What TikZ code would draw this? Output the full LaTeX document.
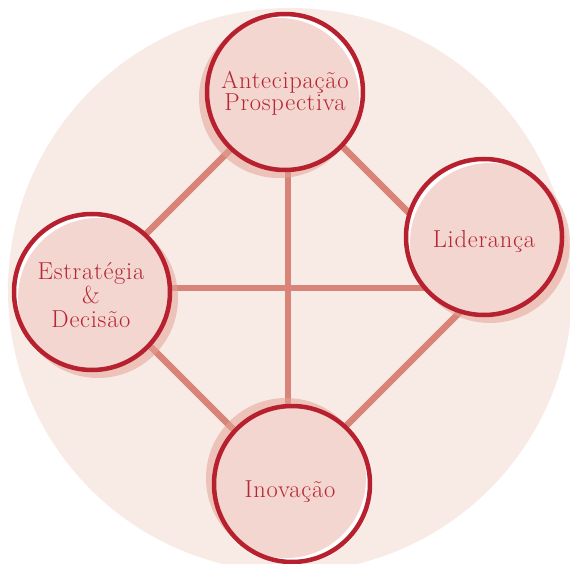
\documentclass[tikz,border=0pt]{standalone}
\usepackage{fontspec}
\setmainfont{Latin Modern Roman}[LetterSpace=3]
\definecolor{bgpink}{HTML}{F8EBE6}
\definecolor{fillpink}{HTML}{F3D6CF}
\definecolor{shadowpink}{HTML}{E3A295}
\definecolor{linered}{HTML}{D98479}
\definecolor{ringred}{HTML}{B7202E}
\definecolor{textred}{HTML}{B62635}
\tikzset{
  link/.style={draw=linered, line width=6.5pt},
  ringnode/.style={circle, draw=ringred, line width=4.5pt, minimum size=156pt, inner sep=0pt},
  label text/.style={text=textred, font=\fontsize{24.5}{22.5}\selectfont, inner sep=0pt, align=center},
  shadowdisk/.style={fill=shadowpink, fill opacity=0.55},
}
\newcommand\nodeback[4]{%
  \fill[shadowdisk] (#1+#3,#2+#4) circle (80pt);
  \fill[white] (#1,#2) circle (78pt);
  \begin{scope}
    \clip (#1,#2) circle (78pt);
    \fill[fillpink] (#1+#3,#2+#4) circle (80pt);
  \end{scope}
}
\begin{document}
\begin{tikzpicture}[x=1pt,y=-1pt]
\useasboundingbox (0,0) rectangle (570,564);
\clip (0,0) rectangle (570,564);
\fill[bgpink] (290,290) circle (282pt);
\coordinate (vT) at (288,92);
\coordinate (vR) at (484,288);
\coordinate (vB) at (288,484);
\coordinate (vL) at (92,288);
\draw[link] (vT) -- (vL);
\draw[link] (vT) -- (vR);
\draw[link] (vL) -- (vB);
\draw[link] (vR) -- (vB);
\draw[link] (vL) -- (vR);
\draw[link] (vT) -- (vB);
\nodeback{285}{92}{-6}{6}
\nodeback{484}{237}{6}{6}
\nodeback{92}{292}{6}{6}
\nodeback{292}{484}{-6}{-6}
\node[ringnode] (ant) at (285,92) {};
\node[ringnode] (lid) at (484,237) {};
\node[ringnode] (est) at (92,292) {};
\node[ringnode] (ino) at (292,484) {};
\node[label text] (antT) at (285,93) {Antecipação\\Prospectiva};
\node[label text, anchor=base] (lidT) at (484,247) {Liderança};
\node[label text, font=\fontsize{24.5}{24}\selectfont] (estT) at (91,295) {Estratégia\\\&\\Decisão};
\node[label text, anchor=base] (inoT) at (290,497) {Inovação};
\end{tikzpicture}
\end{document}
